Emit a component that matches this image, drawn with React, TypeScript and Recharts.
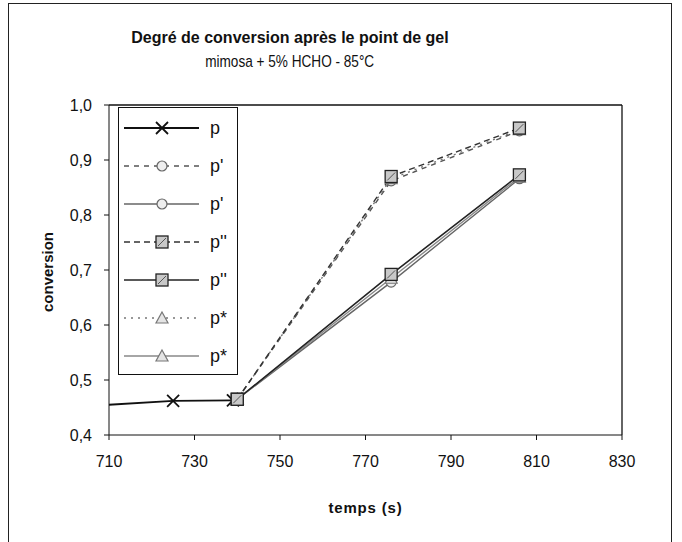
import {
  Line,
  LineChart,
  ReferenceLine,
  XAxis,
  YAxis,
} from "recharts";

// Time (s) of the measured points.
const PRE_GEL_TIME = [695, 725, 739];
const PRE_GEL_CONV = [0.448, 0.462, 0.463];

const POST_GEL_TIME = [740, 776, 806];
const P1_DASH = [0.465, 0.862, 0.953];
const P1_SOLID = [0.465, 0.678, 0.866];
const P2_DASH = [0.465, 0.87, 0.958];
const P2_SOLID = [0.465, 0.692, 0.873];
const P3_DASH = [0.465, 0.866, 0.955];
const P3_SOLID = [0.465, 0.685, 0.869];

const X_TICKS = [710, 730, 750, 770, 790, 810, 830];
const Y_TICKS = [0.4, 0.5, 0.6, 0.7, 0.8, 0.9, 1.0];

const FONT = '"Liberation Sans", Arial, sans-serif';

type Marker = "x" | "circle" | "square" | "triangle";

interface Series {
  key: string;
  name: string;
  time: number[];
  values: number[];
  color: string;
  dash?: string;
  width: number;
  marker: Marker;
}

const SERIES: Series[] = [
  { key: "p", name: "p", time: PRE_GEL_TIME, values: PRE_GEL_CONV, color: "#111", width: 1.8, marker: "x" },
  { key: "p1d", name: "p'", time: POST_GEL_TIME, values: P1_DASH, color: "#555", dash: "5 5", width: 1.4, marker: "circle" },
  { key: "p1s", name: "p'", time: POST_GEL_TIME, values: P1_SOLID, color: "#666", width: 1.4, marker: "circle" },
  { key: "p2d", name: "p''", time: POST_GEL_TIME, values: P2_DASH, color: "#333", dash: "6 4", width: 1.4, marker: "square" },
  { key: "p2s", name: "p''", time: POST_GEL_TIME, values: P2_SOLID, color: "#222", width: 1.6, marker: "square" },
  { key: "p3d", name: "p*", time: POST_GEL_TIME, values: P3_DASH, color: "#777", dash: "2 5", width: 1.4, marker: "triangle" },
  { key: "p3s", name: "p*", time: POST_GEL_TIME, values: P3_SOLID, color: "#888", width: 1.4, marker: "triangle" },
];

// draw order: squares end up on top, as in the original
const DRAW_ORDER = ["p", "p1d", "p1s", "p3d", "p3s", "p2d", "p2s"];

function MarkerShape({ kind, cx, cy }: { kind: Marker; cx: number; cy: number }) {
  if (kind === "x") {
    const r = 6;
    return (
      <g stroke="#111" strokeWidth={1.8}>
        <line x1={cx - r} y1={cy - r} x2={cx + r} y2={cy + r} />
        <line x1={cx - r} y1={cy + r} x2={cx + r} y2={cy - r} />
      </g>
    );
  }
  if (kind === "circle") {
    return <circle cx={cx} cy={cy} r={5} fill="#eee" stroke="#666" strokeWidth={1.2} />;
  }
  if (kind === "square") {
    const s = 6;
    return (
      <g>
        <rect x={cx - s} y={cy - s} width={2 * s} height={2 * s} fill="#c8c8c8" stroke="#222" strokeWidth={1.3} />
        <line x1={cx - s + 2} y1={cy + s - 2} x2={cx + s - 2} y2={cy - s + 2} stroke="#555" strokeWidth={1} />
      </g>
    );
  }
  return (
    <polygon
      points={`${cx},${cy - 6} ${cx + 6},${cy + 5} ${cx - 6},${cy + 5}`}
      fill="#e4e4e4"
      stroke="#777"
      strokeWidth={1.2}
    />
  );
}

function LegendBox() {
  return (
    <div
      style={{
        position: "absolute",
        left: 118,
        top: 107,
        width: 120,
        height: 268,
        border: "1.5px solid #111",
        background: "#fff",
        boxSizing: "border-box",
        fontFamily: FONT,
      }}
    >
      <svg width={117} height={265} style={{ display: "block" }}>
        {SERIES.map((s, i) => {
          const y = 20 + i * 38;
          return (
            <g key={s.key}>
              <line
                x1={5}
                x2={80}
                y1={y}
                y2={y}
                stroke={s.color}
                strokeWidth={s.width}
                strokeDasharray={s.dash}
              />
              <MarkerShape kind={s.marker} cx={43} cy={y} />
              <text x={91} y={y + 6} fontSize={18} fill="#111" fontFamily={FONT}>
                {s.name}
              </text>
            </g>
          );
        })}
      </svg>
    </div>
  );
}

const fmt = (v: number) => v.toFixed(1).replace(".", ",");

export default function App() {
  return (
    <div style={{ position: "absolute", left: 0, top: 0, width: 682, height: 542, background: "#fff", fontFamily: FONT }}>
      {/* chart area frame */}
      <div
        style={{
          position: "absolute",
          left: 8,
          top: 3,
          width: 664,
          height: 560,
          border: "1px solid #222",
          boxSizing: "border-box",
        }}
      />
      <div style={{ position: "absolute", left: 0, top: 29, width: 580, textAlign: "center", fontSize: 16, fontWeight: "bold", color: "#111" }}>
        Degré de conversion après le point de gel
      </div>
      <div
        style={{
          position: "absolute",
          left: 0,
          top: 52,
          width: 580,
          textAlign: "center",
          fontSize: 17,
          color: "#111",
        }}
      >
        <span style={{ display: "inline-block", transform: "scaleX(0.8)" }}>mimosa + 5% HCHO - 85°C</span>
      </div>
      <div
        style={{
          position: "absolute",
          left: 47,
          top: 272,
          transform: "translate(-50%, -50%) rotate(-90deg)",
          fontSize: 15,
          fontWeight: "bold",
          color: "#111",
          whiteSpace: "nowrap",
        }}
      >
        conversion
      </div>
      <div
        style={{
          position: "absolute",
          left: 109,
          top: 499,
          width: 513,
          textAlign: "center",
          fontSize: 15,
          fontWeight: "bold",
          letterSpacing: 0.8,
          color: "#111",
        }}
      >
        temps (s)
      </div>

      <div style={{ position: "absolute", left: 0, top: 0 }}>
        <LineChart width={682} height={542} margin={{ top: 105, right: 60, bottom: 77, left: 49 }}>
          <XAxis
            type="number"
            dataKey="t"
            domain={[710, 830]}
            ticks={X_TICKS}
            allowDataOverflow
            height={30}
            tickSize={5}
            tickMargin={16}
            stroke="#111"
            tick={{ fontSize: 16, fill: "#111", fontFamily: FONT }}
          />
          <YAxis
            type="number"
            dataKey="v"
            domain={[0.4, 1.0]}
            ticks={Y_TICKS}
            width={60}
            tickSize={5}
            tickMargin={12}
            tickFormatter={fmt}
            stroke="#111"
            tick={{ fontSize: 16, fill: "#111", fontFamily: FONT }}
          />
          <ReferenceLine y={1.0} stroke="#111" strokeWidth={1.3} />
          <ReferenceLine x={830} stroke="#111" strokeWidth={1.3} />
          {DRAW_ORDER.map((k) => {
            const s = SERIES.find((x) => x.key === k)!;
            const data = s.time.map((t, i) => ({ t, v: s.values[i] }));
            return (
              <Line
                key={s.key}
                data={data}
                dataKey="v"
                name={s.name}
                type="linear"
                stroke={s.color}
                strokeWidth={s.width}
                strokeDasharray={s.dash}
                isAnimationActive={false}
                legendType="none"
                dot={(props: { cx?: number; cy?: number; index?: number }) => {
                  const { cx = 0, cy = 0, index = 0 } = props;
                  if (s.time[index] < 710) return <g key={`${s.key}-${index}`} />;
                  return (
                    <g key={`${s.key}-${index}`}>
                      <MarkerShape kind={s.marker} cx={cx} cy={cy} />
                    </g>
                  );
                }}
              />
            );
          })}
        </LineChart>
      </div>
      <LegendBox />
    </div>
  );
}
